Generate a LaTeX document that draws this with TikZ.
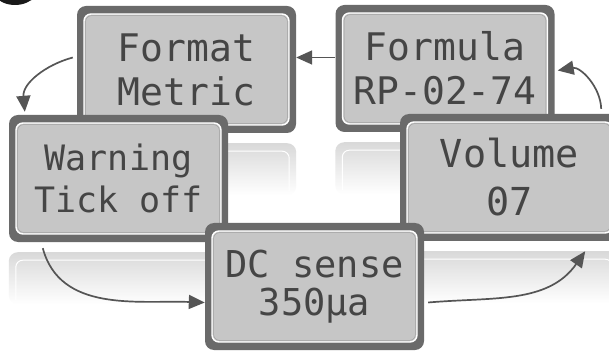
\documentclass[tikz,border=0pt]{standalone}
\usepackage{fontspec}
\setmonofont{DejaVu Sans Mono}
\usetikzlibrary{arrows.meta, calc}

\definecolor{lcdframe}{HTML}{6A6A6A}
\definecolor{lcdscreen}{HTML}{C6C6C6}
\definecolor{lcdtext}{HTML}{454545}
\definecolor{flowgray}{HTML}{555555}

\newcommand{\lcdfont}[2]{\fontsize{#1}{#2}\selectfont\ttfamily}
% faded mirror image under a screen
\newcommand{\lcdmirror}[1]{
	\shade[mirror]			([yshift=-10pt]#1.south west) rectangle ([yshift=-62pt]#1.south east);
	\draw[white, line width=1pt, rounded corners=7pt]	([xshift=7pt,yshift=-58pt]#1.south west) |- ([xshift=-7pt,yshift=-18pt]#1.south east) -- ([xshift=-7pt,yshift=-58pt]#1.south east);
}

\tikzset{
	lcd/.style={rectangle, rounded corners=9pt, fill=lcdframe, minimum width=219pt, minimum height=127pt, inner sep=0pt, text=lcdtext, align=center,
		path picture={
			\draw[white, line width=1.4pt, fill=lcdscreen, rounded corners=7pt] ([shift={(7pt,8pt)}]path picture bounding box.south west) rectangle ([shift={(-7pt,-8pt)}]path picture bounding box.north east);
			\draw[gray!75, line width=.5pt, rounded corners=6pt] ([shift={(8.6pt,9.6pt)}]path picture bounding box.south west) rectangle ([shift={(-8.6pt,-9.6pt)}]path picture bounding box.north east);
		}},
	flow/.style={flowgray, line width=1.7pt, -{Triangle[length=16pt, width=14pt]}},
	mirror/.style={top color=gray!30, bottom color=white, rounded corners=9pt},
}

\begin{document}
\begin{tikzpicture}[x=1pt, y=-1pt]
	\useasboundingbox			(0,0) rectangle (609,352);
	\clip					(0,0) rectangle (609,352);
	\fill[white]				(0,0) rectangle (609,352);
	\fill[gray!20!black]			(15,-25) circle (30pt);

	\node[lcd, font={\lcdfont{38}{44}}]	(format) at (186.5,69.5) {Format\\Metric};
	\node[lcd, font={\lcdfont{38}{44}}]	(formula) at (445,68.5) {Formula\\RP-02-74};
	\lcdmirror{format}
	\lcdmirror{formula}

	\node[lcd, font={\lcdfont{35}{42}}]	(warning) at (118.5,178.5) {Warning\\Tick off};
	\node[lcd, font={\lcdfont{38.5}{48}}]	(volume) at (509.5,177.5) {Volume\\07};
	\lcdmirror{warning}
	\lcdmirror{volume}

	\node[lcd, font={\lcdfont{37}{38}}]	(dc) at (314.5,286.5) {DC sense\\350µa};

	\draw[flow]	([yshift=11pt]formula.west) -- ([yshift=11pt]formula.west -| format.east);
	\draw[flow]	([xshift=-4pt,yshift=12pt]format.west) to[out=195, in=95] ([xshift=16pt,yshift=3pt]warning.north west);
	\draw[flow]	([xshift=34pt,yshift=-6pt]warning.south west) to[out=-75, in=178] ([yshift=-16pt]dc.west);
	\draw[flow]	([xshift=4pt,yshift=-16pt]dc.east) to[out=5, in=-125] ([xshift=-34pt,yshift=-10pt]volume.south east);
	\draw[flow]	([xshift=-18pt,yshift=5pt]volume.north east) to[out=92, in=10] ([xshift=3pt,yshift=-2pt]formula.east);
\end{tikzpicture}
\end{document}
